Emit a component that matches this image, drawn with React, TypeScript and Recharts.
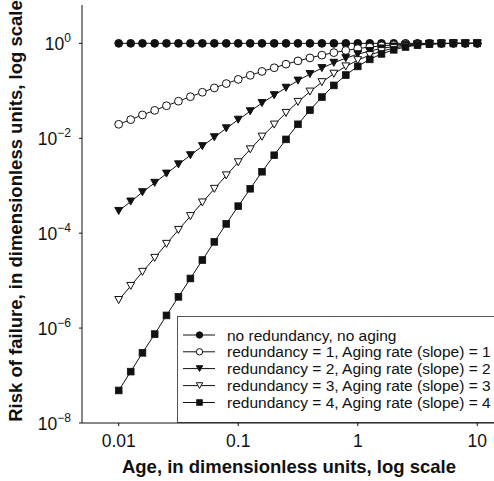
import React from 'react';
import { LineChart, Line, XAxis, YAxis, Customized } from 'recharts';

// Age (dimensionless, log spaced) and risk of failure for each curve
const ages = [
  0.01, 0.0126, 0.0158, 0.02, 0.0251, 0.0316, 0.0398, 0.0501, 0.0631, 0.0794,
  0.1, 0.126, 0.158, 0.2, 0.251, 0.316, 0.398, 0.501, 0.631, 0.794,
  1, 1.26, 1.58, 2, 2.51, 3.16, 3.98, 5.01, 6.31, 7.94, 10,
];

const noRedundancy = [
  1, 1, 1, 1, 1, 1, 1, 1, 1, 1,
  1, 1, 1, 1, 1, 1, 1, 1, 1, 1,
  1, 1, 1, 1, 1, 1, 1, 1, 1, 1, 1,
];

const redundancy1 = [
  0.0197, 0.0247, 0.031, 0.0387, 0.0484, 0.0604, 0.0751, 0.0932, 0.115, 0.142,
  0.174, 0.212, 0.256, 0.306, 0.364, 0.427, 0.494, 0.565, 0.638, 0.708,
  0.775, 0.835, 0.886, 0.927, 0.958, 0.978, 0.991, 0.997, 0.999, 1, 1,
];

const redundancy2 = [
  2.94e-4, 4.64e-4, 7.3e-4, 1.15e-3, 1.8e-3, 2.82e-3, 4.39e-3, 6.82e-3, 0.0105, 0.0162,
  0.0246, 0.0371, 0.0552, 0.0809, 0.116, 0.164, 0.225, 0.301, 0.389, 0.488,
  0.59, 0.69, 0.781, 0.858, 0.917, 0.957, 0.981, 0.993, 0.998, 1, 1,
];

const redundancy3 = [
  3.9e-6, 7.73e-6, 1.53e-5, 3.02e-5, 5.95e-5, 1.17e-4, 2.29e-4, 4.44e-4, 8.59e-4, 1.65e-3,
  3.12e-3, 5.84e-3, 0.0108, 0.0194, 0.0342, 0.0584, 0.0963, 0.152, 0.229, 0.327,
  0.442, 0.566, 0.686, 0.793, 0.877, 0.936, 0.972, 0.99, 0.997, 0.999, 1,
];

const redundancy4 = [
  4.85e-8, 1.21e-7, 3.01e-7, 7.46e-7, 1.85e-6, 4.55e-6, 1.11e-5, 2.72e-5, 6.56e-5, 1.57e-4,
  3.71e-4, 8.63e-4, 1.97e-3, 4.39e-3, 9.47e-3, 0.0197, 0.0392, 0.0738, 0.13, 0.215,
  0.327, 0.46, 0.6, 0.731, 0.838, 0.915, 0.963, 0.987, 0.996, 0.999, 1,
];

const xTicks = [0.01, 0.1, 1, 10];
const yTicks = [1e-8, 1e-6, 1e-4, 1e-2, 1];
const yTickExponents = ['\u22128', '\u22126', '\u22124', '\u22122', '0'];

const seriesNames = [
  'no redundancy, no aging',
  'redundancy = 1, Aging rate (slope) = 1',
  'redundancy = 2, Aging rate (slope) = 2',
  'redundancy = 3, Aging rate (slope) = 3',
  'redundancy = 4, Aging rate (slope) = 4',
];

const rows = ages.map((age, i) => ({
  age,
  s0: noRedundancy[i],
  s1: redundancy1[i],
  s2: redundancy2[i],
  s3: redundancy3[i],
  s4: redundancy4[i],
}));

const FONT = '"Liberation Sans", Arial, Helvetica, sans-serif';
const INK = '#111';

type Kind = 'filledCircle' | 'openCircle' | 'filledTri' | 'openTri' | 'square';
const kinds: Kind[] = ['filledCircle', 'openCircle', 'filledTri', 'openTri', 'square'];

function marker(kind: Kind, cx: number, cy: number, s: number, key?: string) {
  const fill = kind === 'openCircle' || kind === 'openTri' ? '#fff' : INK;
  if (kind === 'filledCircle' || kind === 'openCircle') {
    return <circle key={key} cx={cx} cy={cy} r={s} fill={fill} stroke={INK} strokeWidth={1} />;
  }
  if (kind === 'filledTri' || kind === 'openTri') {
    const h = s * 0.9;
    const pts = `${cx - s},${cy - h} ${cx + s},${cy - h} ${cx},${cy + h}`;
    return <polygon key={key} points={pts} fill={fill} stroke={INK} strokeWidth={1} />;
  }
  const a = s * 0.88;
  return <rect key={key} x={cx - a} y={cy - a} width={2 * a} height={2 * a} fill={fill} stroke={INK} strokeWidth={0.8} />;
}

const dotFor = (kind: Kind) => (props: any) => {
  const { cx, cy, index } = props;
  if (cx == null || cy == null) return <g key={`e-${kind}-${index}`} />;
  return marker(kind, cx, cy, kind === 'square' ? 3.8 : 3.9, `${kind}-${index}`);
};

function XTick(props: any) {
  const { x, y, payload } = props;
  return (
    <text x={x} y={y + 19} textAnchor="middle" fontFamily={FONT} fontSize={17.5} fill={INK}>
      {String(payload.value)}
    </text>
  );
}

function YTick(props: any) {
  const { x, y, payload } = props;
  const idx = yTicks.findIndex((t) => Math.abs(Math.log10(t) - Math.log10(payload.value)) < 0.01);
  return (
    <text x={x - 6} y={y + 7} textAnchor="end" fontFamily={FONT} fontSize={17.5} fill={INK}>
      <tspan>10</tspan>
      <tspan dy={-8} fontSize={12}>{yTickExponents[idx] ?? ''}</tspan>
    </text>
  );
}

function Decorations() {
  const rowY = [335, 351.8, 368.6, 385.6, 402.5];
  return (
    <g>
      <rect x={177.5} y={316.5} width={330} height={106} fill="#fff" stroke="#555" strokeWidth={1} />
      {seriesNames.map((name, i) => (
        <g key={name}>
          <line x1={183} x2={215} y1={rowY[i]} y2={rowY[i]} stroke={INK} strokeWidth={1} />
          {marker(kinds[i], 199.5, rowY[i], 3.2)}
          <text x={227} y={rowY[i] + 5.5} fontFamily={FONT} fontSize={15.5} fill={INK}>
            {name}
          </text>
        </g>
      ))}
      <text x={289} y={472.5} textAnchor="middle" fontFamily={FONT} fontSize={18.5} fontWeight="bold" fill={INK}>
        Age, in dimensionless units, log scale
      </text>
      <text
        x={21.5}
        y={211}
        transform="rotate(-90 21.5 211)"
        textAnchor="middle"
        fontFamily={FONT}
        fontSize={18.5}
        fontWeight="bold"
        fill={INK}
      >
        Risk of failure, in dimensionless units, log scale
      </text>
    </g>
  );
}

export default function App() {
  return (
    <div style={{ position: 'absolute', left: 0, top: 0, width: 494, height: 481, background: '#fff' }}>
      <LineChart width={494} height={481} data={rows} margin={{ top: 5, right: 0, left: 0, bottom: 0 }}>
        <XAxis
          dataKey="age"
          type="number"
          scale="log"
          domain={[0.00493, 13.8]}
          allowDataOverflow
          ticks={xTicks}
          height={58}
          tickSize={3}
          tick={<XTick />}
          axisLine={{ stroke: INK }}
          tickLine={{ stroke: INK }}
        />
        <YAxis
          type="number"
          scale="log"
          domain={[1e-8, 6.43]}
          allowDataOverflow
          ticks={yTicks}
          width={82}
          tickSize={3}
          tick={<YTick />}
          axisLine={{ stroke: INK }}
          tickLine={{ stroke: INK }}
        />
        <Customized component={<Decorations />} />
        {['s0', 's1', 's2', 's3', 's4'].map((key, i) => (
          <Line
            key={key}
            dataKey={key}
            type="linear"
            stroke={INK}
            strokeWidth={1}
            dot={dotFor(kinds[i])}
            activeDot={false}
            isAnimationActive={false}
          />
        ))}
      </LineChart>
    </div>
  );
}
